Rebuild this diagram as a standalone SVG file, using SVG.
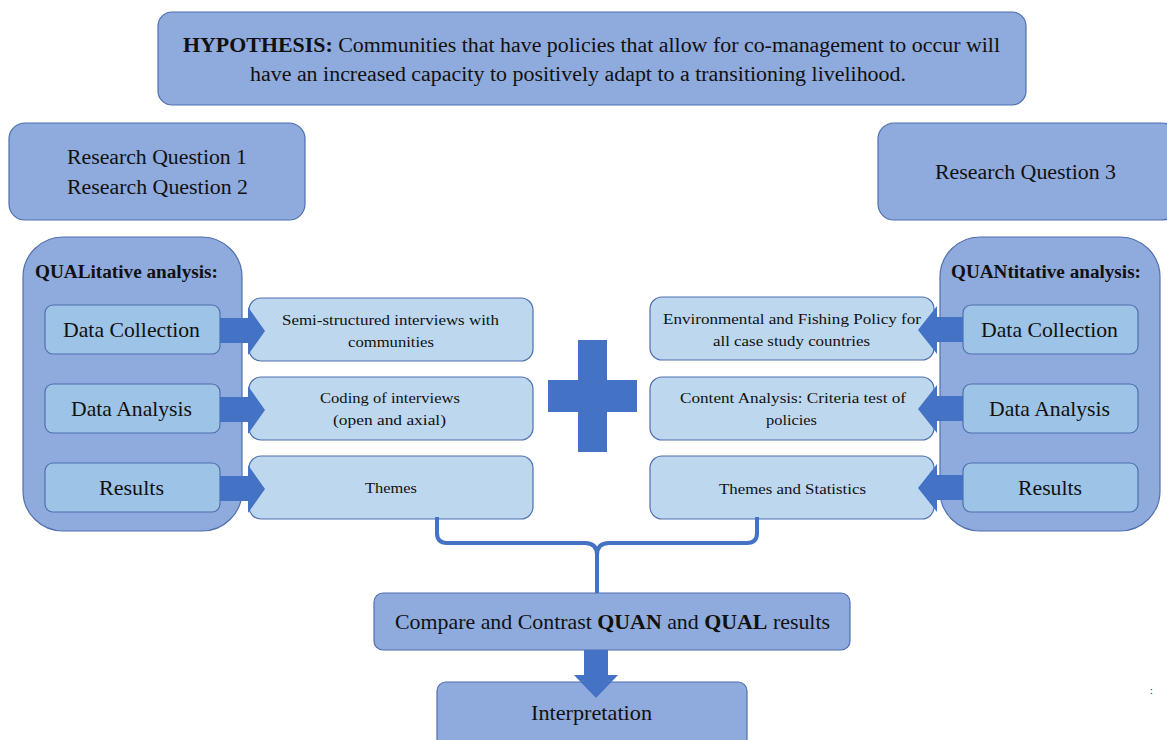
<svg xmlns="http://www.w3.org/2000/svg" width="1167" height="740" viewBox="0 0 1167 740">
  <style>
    text { font-family: "Liberation Serif", "Times New Roman", serif; fill: #111; }
    .main { fill: #8faadc; stroke: #4f6fae; stroke-width: 1.2; }
    .step { fill: #9dc3e6; stroke: #4f6fae; stroke-width: 1.2; }
    .task { fill: #bdd7ee; stroke: #4f6fae; stroke-width: 1.2; }
    .arrow { fill: #4472c4; }
    .t20 { font-size: 20px; }
    .t21 { font-size: 21px; }
    .t15 { font-size: 15px; }
    .title { font-size: 18px; font-weight: bold; }
    .c { text-anchor: middle; }
    .b { font-weight: bold; }
  </style>

  <rect width="1167" height="740" fill="#ffffff"/>

  <!-- Hypothesis banner -->
  <g id="hypothesis">
    <rect class="main" x="158" y="12" width="868" height="93" rx="14"/>
    <text class="t20" x="183" y="52" textLength="817" lengthAdjust="spacingAndGlyphs"><tspan class="b">HYPOTHESIS:</tspan> Communities  that have policies that allow for co-management to occur will</text>
    <text class="t20" x="250" y="81" textLength="656" lengthAdjust="spacingAndGlyphs">have an increased capacity to positively  adapt to a transitioning  livelihood.</text>
  </g>

  <!-- Research questions -->
  <g id="rq12">
    <rect class="main" x="9" y="123" width="296" height="97" rx="16"/>
    <text class="t20" x="67" y="164" textLength="180" lengthAdjust="spacingAndGlyphs">Research Question 1</text>
    <text class="t20" x="67" y="194" textLength="181" lengthAdjust="spacingAndGlyphs">Research Question 2</text>
  </g>
  <g id="rq3">
    <rect class="main" x="878" y="123" width="300" height="97" rx="16"/>
    <text class="t20" x="935" y="179" textLength="181" lengthAdjust="spacingAndGlyphs">Research Question 3</text>
  </g>

  <!-- Qualitative column -->
  <g id="qual">
    <rect class="main" x="23" y="237" width="219" height="294" rx="40"/>
    <text class="title" x="35" y="278" textLength="183" lengthAdjust="spacingAndGlyphs">QUALitative  analysis:</text>
  </g>
  <g id="qual-collection">
    <rect class="step" x="45" y="305" width="175" height="49" rx="8"/>
    <text class="t21" x="63" y="337" textLength="137" lengthAdjust="spacingAndGlyphs">Data Collection</text>
  </g>
  <g id="qual-analysis">
    <rect class="step" x="45" y="384" width="175" height="49" rx="8"/>
    <text class="t21" x="71" y="416" textLength="121" lengthAdjust="spacingAndGlyphs">Data Analysis</text>
  </g>
  <g id="qual-results">
    <rect class="step" x="45" y="463" width="175" height="49" rx="8"/>
    <text class="t21" x="99" y="495" textLength="65" lengthAdjust="spacingAndGlyphs">Results</text>
  </g>

  <g id="qual-interviews">
    <rect class="task" x="249" y="298" width="284" height="63" rx="12"/>
    <text class="t15" x="282" y="325" textLength="217" lengthAdjust="spacingAndGlyphs">Semi-structured interviews  with</text>
    <text class="t15" x="348" y="347" textLength="86" lengthAdjust="spacingAndGlyphs">communities</text>
  </g>
  <g id="qual-coding">
    <rect class="task" x="249" y="377" width="284" height="63" rx="12"/>
    <text class="t15" x="320" y="403" textLength="140" lengthAdjust="spacingAndGlyphs">Coding of interviews</text>
    <text class="t15" x="333" y="425" textLength="113" lengthAdjust="spacingAndGlyphs">(open and axial)</text>
  </g>
  <g id="qual-themes">
    <rect class="task" x="249" y="456" width="284" height="63" rx="12"/>
    <text class="t15" x="365" y="493" textLength="52" lengthAdjust="spacingAndGlyphs">Themes</text>
  </g>

  <!-- Quantitative column -->
  <g id="quan">
    <rect class="main" x="940" y="237" width="220" height="294" rx="40"/>
    <text class="title" x="951" y="278" textLength="190" lengthAdjust="spacingAndGlyphs">QUANtitative  analysis:</text>
  </g>
  <g id="quan-collection">
    <rect class="step" x="963" y="305" width="175" height="49" rx="8"/>
    <text class="t21" x="981" y="337" textLength="137" lengthAdjust="spacingAndGlyphs">Data Collection</text>
  </g>
  <g id="quan-analysis">
    <rect class="step" x="963" y="384" width="175" height="49" rx="8"/>
    <text class="t21" x="989" y="416" textLength="121" lengthAdjust="spacingAndGlyphs">Data Analysis</text>
  </g>
  <g id="quan-results">
    <rect class="step" x="963" y="463" width="175" height="49" rx="8"/>
    <text class="t21" x="1018" y="495" textLength="64" lengthAdjust="spacingAndGlyphs">Results</text>
  </g>

  <g id="quan-policy">
    <rect class="task" x="650" y="297" width="284" height="63" rx="12"/>
    <text class="t15" x="663" y="324" textLength="258" lengthAdjust="spacingAndGlyphs">Environmental  and Fishing Policy for</text>
    <text class="t15" x="713" y="346" textLength="157" lengthAdjust="spacingAndGlyphs">all  case study countries</text>
  </g>
  <g id="quan-content">
    <rect class="task" x="650" y="377" width="284" height="63" rx="12"/>
    <text class="t15" x="680" y="403" textLength="226" lengthAdjust="spacingAndGlyphs">Content Analysis:  Criteria  test of</text>
    <text class="t15" x="766" y="425" textLength="51" lengthAdjust="spacingAndGlyphs">policies</text>
  </g>
  <g id="quan-themes">
    <rect class="task" x="650" y="456" width="284" height="63" rx="12"/>
    <text class="t15" x="719" y="494" textLength="147" lengthAdjust="spacingAndGlyphs">Themes and Statistics</text>
  </g>

  <!-- Plus sign between the two methods -->
  <g id="plus">
    <path class="arrow" d="M578,340 H607 V380 H637 V412 H607 V452 H578 V412 H548 V380 H578 Z"/>
  </g>

  <!-- Merge and conclusion -->
  <g id="compare">
    <rect class="main" x="374" y="593" width="476" height="57" rx="9"/>
    <text class="t21" x="395" y="629" textLength="435" lengthAdjust="spacingAndGlyphs">Compare and Contrast <tspan class="b">QUAN</tspan> and <tspan class="b">QUAL</tspan> results</text>
  </g>
  <g id="interpretation">
    <rect class="main" x="437" y="682" width="310" height="70" rx="9"/>
    <text class="t21" x="531" y="720" textLength="121" lengthAdjust="spacingAndGlyphs">Interpretation</text>
  </g>

  <!-- Connectors -->
  <g id="connectors">
    <!-- block arrows, step to task -->
    <path class="arrow" d="M220,318 H248 V307 L265,331 L248,355 V343 H220 Z"/>
    <path class="arrow" d="M220,397 H248 V386 L265,410 L248,434 V422 H220 Z"/>
    <path class="arrow" d="M220,476 H248 V465 L265,489 L248,513 V501 H220 Z"/>
    <path class="arrow" d="M963,317 H937 V306 L918,330 L937,354 V342 H963 Z"/>
    <path class="arrow" d="M963,396 H937 V385 L918,409 L937,433 V421 H963 Z"/>
    <path class="arrow" d="M963,475 H937 V464 L918,488 L937,512 V500 H963 Z"/>
    <!-- brace joining both result boxes -->
    <path d="M437,517 V533 Q437,543 447,543 H585 Q597,543 597,555 V593 M757,517 V533 Q757,543 747,543 H609 Q597,543 597,555" fill="none" stroke="#4472c4" stroke-width="4"/>
    <!-- down arrow to interpretation -->
    <path class="arrow" d="M584,650 H608 V675 H618 L596,698 L574,675 H584 Z"/>
  </g>

  <text x="1150" y="694" font-size="10">:</text>
</svg>
